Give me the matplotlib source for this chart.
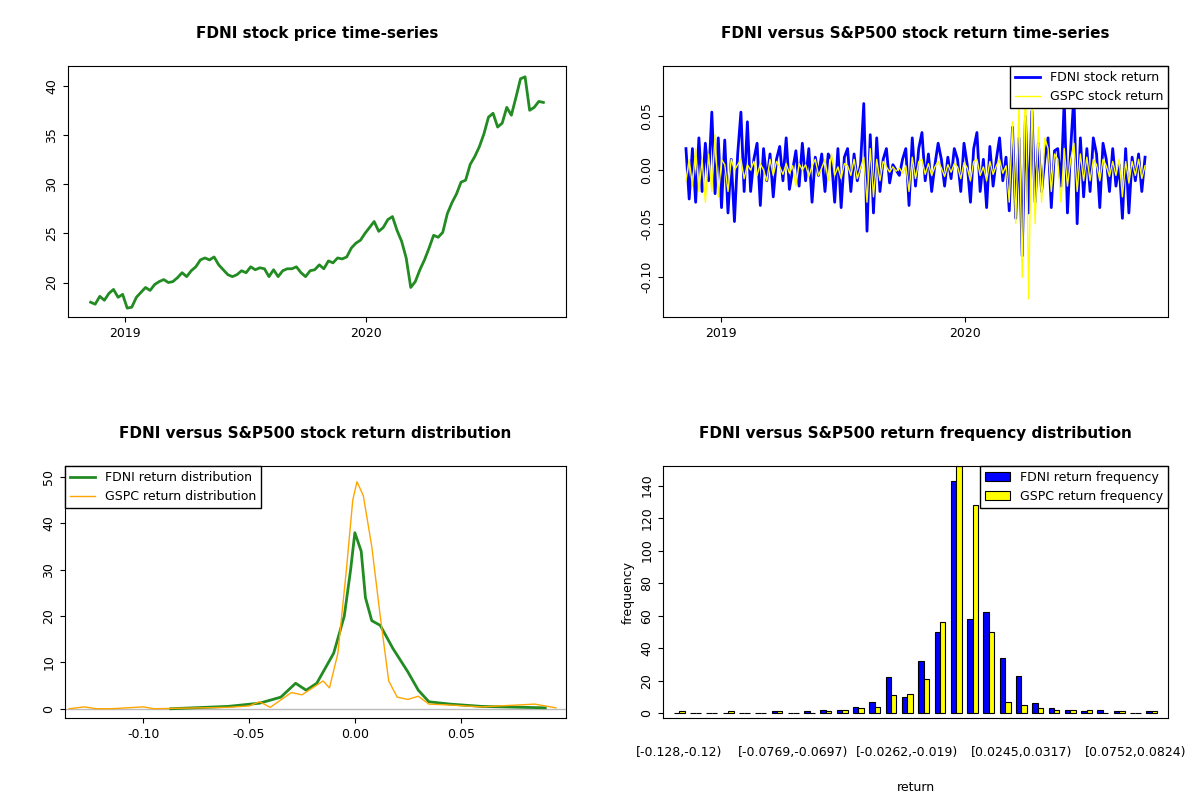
import numpy as np
import pandas as pd
import matplotlib.pyplot as plt

plt.rcParams['font.size'] = 9

# weekly FDNI closing price
fdni_price = [18.0, 17.8, 18.6, 18.2, 18.9, 19.3, 18.5, 18.8, 17.4, 17.5, 18.5, 19.0, 19.5, 19.2,
              19.8, 20.1, 20.3, 20.0, 20.1, 20.5, 21.0, 20.6, 21.2, 21.6, 22.3, 22.5, 22.3, 22.6,
              21.8, 21.3, 20.8, 20.6, 20.8, 21.2, 21.0, 21.6, 21.3, 21.5, 21.4, 20.6, 21.3, 20.6,
              21.2, 21.4, 21.4, 21.6, 21.0, 20.6, 21.2, 21.3, 21.8, 21.4, 22.2, 22.0, 22.5, 22.4,
              22.6, 23.5, 24.0, 24.3, 25.0, 25.6, 26.2, 25.2, 25.6, 26.4, 26.7, 25.3, 24.2, 22.5,
              19.5, 20.1, 21.3, 22.3, 23.5, 24.8, 24.6, 25.1, 27.0, 28.1, 29.0, 30.2, 30.4, 32.0,
              32.8, 33.8, 35.1, 36.8, 37.2, 35.8, 36.2, 37.8, 37.0, 38.8, 40.7, 40.9, 37.5, 37.8,
              38.4, 38.3]

# returns sampled from the chart
fdni_ret = [0.02, -0.027, 0.02, -0.03, 0.03, -0.02, 0.025, -0.01, 0.054, -0.022, 0.03, -0.035,
            0.028, -0.04, 0.01, -0.048, 0.015, 0.054, -0.02, 0.045, -0.02, 0.01, 0.025, -0.033,
            0.02, -0.01, 0.015, -0.025, 0.01, 0.022, -0.01, 0.03, -0.018, 0.0, 0.018, -0.015,
            0.025, -0.01, 0.02, -0.03, 0.012, -0.005, 0.015, -0.02, 0.015, 0.01, -0.03, 0.02,
            -0.035, 0.012, 0.02, -0.02, 0.015, -0.01, 0.005, 0.062, -0.057, 0.033, -0.04, 0.03,
            -0.02, 0.01, 0.02, -0.012, 0.005, 0.0, -0.005, 0.01, 0.02, -0.033, 0.03, -0.015,
            0.02, 0.035, -0.01, 0.015, -0.02, 0.005, 0.025, 0.01, -0.015, 0.012, -0.008, 0.02,
            0.01, -0.02, 0.025, 0.005, -0.03, 0.02, 0.035, -0.02, 0.01, -0.035, 0.022, -0.015,
            0.01, 0.03, -0.01, 0.012, -0.038, 0.04, -0.045, 0.03, -0.08, 0.05, -0.04, 0.055,
            -0.03, 0.025, -0.02, 0.01, 0.03, -0.035, 0.018, 0.02, -0.015, 0.065, -0.04, 0.02,
            0.07, -0.05, 0.03, -0.025, 0.02, -0.02, 0.03, 0.015, -0.035, 0.025, 0.01, -0.02,
            0.02, -0.015, 0.005, -0.045, 0.02, -0.04, 0.012, -0.01, 0.015, -0.02, 0.012]
gspc_ret = [-0.01, 0.01, -0.015, 0.02, -0.02, 0.01, -0.03, 0.015, -0.02, 0.033, -0.025, 0.01,
            0.005, -0.02, 0.01, 0.0, 0.005, 0.01, -0.008, 0.005, 0.0, 0.008, -0.005, 0.006,
            0.0, -0.01, 0.01, -0.005, 0.008, 0.003, -0.004, 0.006, -0.003, 0.004, -0.015, 0.006,
            0.0, 0.005, -0.006, 0.004, 0.01, -0.005, 0.002, 0.01, -0.01, 0.015, -0.005, 0.003,
            -0.008, 0.006, 0.004, -0.005, 0.01, -0.008, 0.002, 0.012, -0.03, 0.02, -0.025, 0.01,
            -0.01, 0.008, 0.003, -0.002, 0.003, -0.001, 0.002, -0.003, 0.004, -0.02, 0.012, -0.008,
            0.008, 0.01, -0.004, 0.006, -0.005, 0.003, 0.008, 0.002, -0.006, 0.005, -0.002, 0.006,
            0.003, -0.008, 0.007, 0.002, -0.01, 0.008, 0.01, -0.005, 0.003, -0.01, 0.008, -0.004,
            0.004, 0.01, -0.003, 0.004, -0.03, 0.045, -0.05, 0.06, -0.1, 0.09, -0.12, 0.07,
            -0.05, 0.04, -0.03, 0.03, 0.02, -0.02, 0.015, 0.01, -0.03, 0.02, -0.015, 0.01,
            0.025, -0.02, 0.015, -0.01, 0.012, -0.01, 0.01, 0.005, -0.01, 0.01, 0.004, -0.006,
            0.008, -0.005, 0.01, -0.025, 0.008, -0.012, 0.008, -0.005, 0.01, -0.008, 0.004]

# kernel density curves (x, density)
fdni_dx = [-0.087, -0.06, -0.045, -0.035, -0.028, -0.023, -0.018, -0.01, -0.005, -0.002, 0.0,
           0.003, 0.005, 0.008, 0.012, 0.018, 0.025, 0.03, 0.035, 0.045, 0.06, 0.09]
fdni_dy = [0.0, 0.5, 1.2, 2.5, 5.5, 4.0, 5.5, 12, 20, 30, 38, 34, 24, 19, 18, 13, 8, 4, 1.5, 1.0, 0.5, 0.2]
gspc_dx = [-0.135, -0.128, -0.122, -0.115, -0.10, -0.095, -0.06, -0.05, -0.045, -0.04, -0.03,
           -0.025, -0.02, -0.015, -0.012, -0.008, -0.004, -0.001, 0.001, 0.004, 0.008, 0.012,
           0.016, 0.02, 0.025, 0.03, 0.035, 0.045, 0.06, 0.085, 0.095]
gspc_dy = [0.0, 0.4, 0.0, 0.0, 0.4, 0.0, 0.3, 0.6, 1.5, 0.3, 3.5, 3.0, 4.5, 6.0, 4.5, 12, 30, 45,
           49, 46, 35, 20, 6, 2.5, 2.0, 2.7, 1.0, 0.8, 0.4, 1.0, 0.2]

# histogram counts per bin
fdni_freq = [0, 0, 0, 0, 0, 0, 1, 0, 1, 2, 2, 4, 7, 22, 10, 32, 50, 143, 58, 62, 34, 23, 6, 3, 2, 1, 2, 1, 0, 1]
gspc_freq = [1, 0, 0, 1, 0, 0, 1, 0, 0, 1, 2, 3, 4, 11, 12, 21, 56, 152, 128, 50, 7, 5, 3, 2, 2, 2, 0, 1, 0, 1]
bin_labels = ['[-0.128,-0.12)', '[-0.0769,-0.0697)', '[-0.0262,-0.019)', '[0.0245,0.0317)', '[0.0752,0.0824)']

fig = plt.figure(figsize=(12, 8), dpi=100)
W, H = 1200, 800
def box(l, r, t, b):
    return fig.add_axes([l / W, 1 - b / H, (r - l) / W, (b - t) / H])

title_kw = dict(fontsize=11, fontweight='bold', pad=20)
leg_kw = dict(fancybox=False, edgecolor='black', framealpha=1, borderaxespad=0, fontsize=9)

# price time-series
ax1 = box(68, 566, 66, 317)
pdates = pd.date_range('2018-11-10', '2020-09-25', periods=len(fdni_price))
ax1.plot(pdates, fdni_price, color='forestgreen', lw=2)
ax1.set_ylim(16.5, 42)
ax1.set_yticks([20, 25, 30, 35, 40])
ax1.set_yticklabels(['20', '25', '30', '35', '40'], rotation=90, va='center')
ax1.set_xticks(pd.to_datetime(['2019-01-01', '2020-01-01']))
ax1.set_xticklabels(['2019', '2020'])
ax1.set_title('FDNI stock price time-series', **title_kw)

# return time-series
ax2 = box(663, 1168, 66, 317)
fd = pd.date_range('2018-11-10', '2020-09-25', periods=len(fdni_ret))
gd = pd.date_range('2018-11-10', '2020-09-25', periods=len(gspc_ret))
ax2.plot(fd, fdni_ret, color='blue', lw=2, label='FDNI stock return')
ax2.plot(gd, gspc_ret, color='yellow', lw=1, label='GSPC stock return')
ax2.set_ylim(-0.137, 0.097)
ax2.set_yticks([-0.10, -0.05, 0.0, 0.05])
ax2.set_yticklabels(['-0.10', '-0.05', '0.00', '0.05'], rotation=90, va='center')
ax2.set_xticks(pd.to_datetime(['2019-01-01', '2020-01-01']))
ax2.set_xticklabels(['2019', '2020'])
ax2.set_title('FDNI versus S&P500 stock return time-series', **title_kw)
ax2.legend(loc='upper right', **leg_kw)

# density
ax3 = box(65, 566, 466, 718)
ax3.axhline(0, color='#bbbbbb', lw=1)
ax3.plot(fdni_dx, fdni_dy, color='forestgreen', lw=2, label='FDNI return distribution')
ax3.plot(gspc_dx, gspc_dy, color='orange', lw=1, label='GSPC return distribution')
ax3.set_xlim(-0.137, 0.0998)
ax3.set_ylim(-2, 52.4)
ax3.set_xticks([-0.10, -0.05, 0.0, 0.05])
ax3.set_xticklabels(['-0.10', '-0.05', '0.00', '0.05'])
ax3.set_yticks([0, 10, 20, 30, 40, 50])
ax3.set_yticklabels(['0', '10', '20', '30', '40', '50'], rotation=90, va='center')
ax3.set_title('FDNI versus S&P500 stock return distribution', **title_kw)
ax3.legend(loc='upper left', **leg_kw)

# frequency barplot
ax4 = box(663, 1168, 466, 718)
n = len(fdni_freq)
idx = np.arange(n)
ax4.bar(idx * 3 + 1, fdni_freq, width=1, color='blue', edgecolor='black', lw=0.8,
        label='FDNI return frequency', align='edge')
ax4.bar(idx * 3 + 2, gspc_freq, width=1, color='yellow', edgecolor='black', lw=0.8,
        label='GSPC return frequency', align='edge')
ax4.set_xlim(-1, n * 3 + 2)
ax4.set_ylim(-3, 152)
ax4.set_yticks(list(range(0, 141, 20)))
ax4.set_yticklabels([str(v) for v in range(0, 141, 20)], rotation=90, va='center')
ax4.set_xticks(np.arange(0, n, 7) * 3 + 2)
ax4.set_xticklabels(bin_labels)
ax4.tick_params(axis='x', length=0, pad=20)
ax4.set_xlabel('return', fontsize=9, labelpad=16)
ax4.set_ylabel('frequency', fontsize=9)
ax4.set_title('FDNI versus S&P500 return frequency distribution', **title_kw)
ax4.legend(loc='upper right', **leg_kw)

fig.savefig('out.png', dpi=100)
